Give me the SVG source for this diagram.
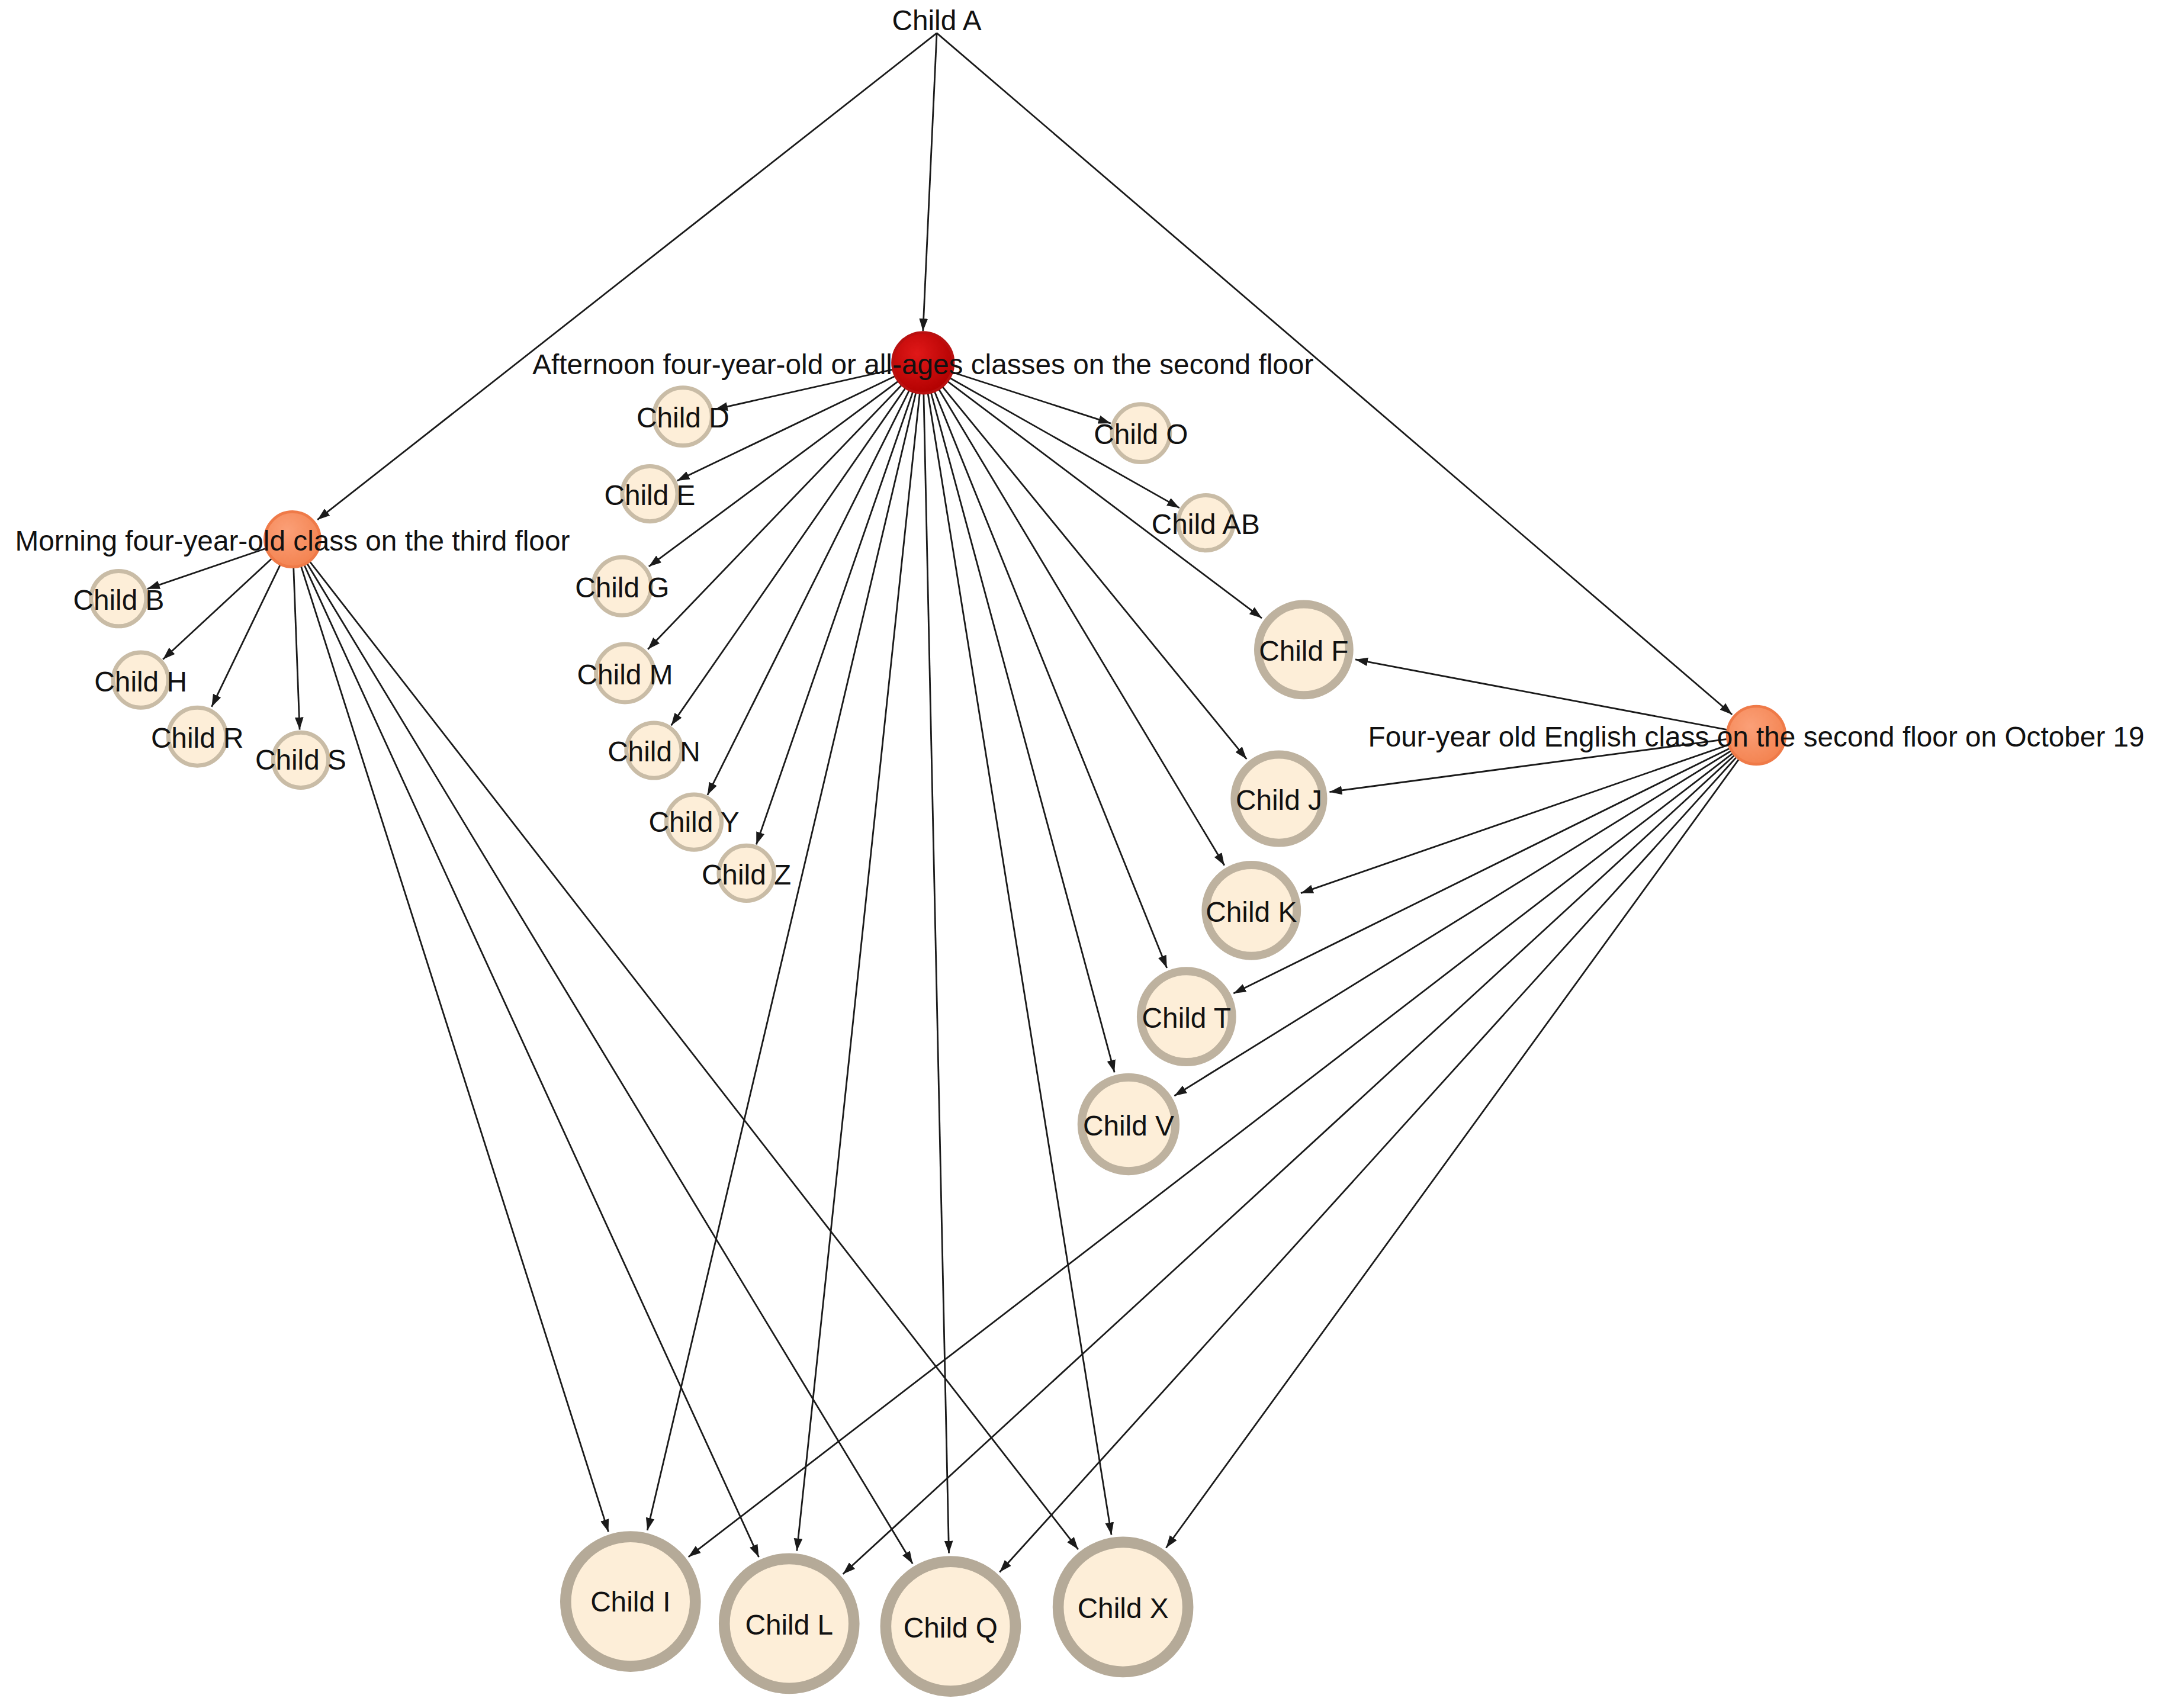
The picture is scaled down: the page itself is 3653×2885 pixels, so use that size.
<svg xmlns="http://www.w3.org/2000/svg" width="3653" height="2885" viewBox="0 0 3653 2885">
<style>
.e{stroke:#1a1a1a;stroke-width:1.2;fill:none;marker-end:url(#ah)}
.s{fill:#fdeed8;stroke:#c9bca6;stroke-width:3}
.m{stroke:#beb29f;stroke-width:6}
.b{fill:#fdeed8;stroke:#b5aa98;stroke-width:8}
.t{font-family:"Liberation Sans",Arial,sans-serif;font-size:20.5px;fill:#111;text-anchor:middle;dominant-baseline:central}
.tb{font-size:20.5px}
.red{fill:url(#gr);stroke:#b81010;stroke-width:2}
.or{fill:url(#go);stroke:#ef7a48;stroke-width:2}
</style>
<defs>
<marker id="ah" viewBox="0 0 10 10" refX="10" refY="5" markerWidth="9" markerHeight="9" markerUnits="userSpaceOnUse" orient="auto"><path d="M0,1.5 L10,5 L0,8.5 z" fill="#1a1a1a"/></marker>
<radialGradient id="gr" cx="0.4" cy="0.35" r="0.7"><stop offset="0" stop-color="#e01818"/><stop offset="1" stop-color="#b00000"/></radialGradient>
<radialGradient id="go" cx="0.4" cy="0.35" r="0.7"><stop offset="0" stop-color="#fba078"/><stop offset="1" stop-color="#f3824f"/></radialGradient>
</defs>
<rect width="3653" height="2885" fill="#fff"/>
<g transform="scale(2.33)">
<g id="edges">
<line class="e" x1="679" y1="24" x2="669" y2="240"/>
<line class="e" x1="679" y1="24" x2="230.1" y2="376.8"/>
<line class="e" x1="679" y1="24" x2="1255.5" y2="518"/>
<line class="e" x1="669" y1="263" x2="518.4" y2="296.7"/>
<line class="e" x1="669" y1="263" x2="490.8" y2="348.5"/>
<line class="e" x1="669" y1="263" x2="470.3" y2="410.7"/>
<line class="e" x1="669" y1="263" x2="469.6" y2="470.7"/>
<line class="e" x1="669" y1="263" x2="486.5" y2="525.9"/>
<line class="e" x1="669" y1="263" x2="512.8" y2="576.3"/>
<line class="e" x1="669" y1="263" x2="548.2" y2="612.2"/>
<line class="e" x1="669" y1="263" x2="805.1" y2="306.9"/>
<line class="e" x1="669" y1="263" x2="854.9" y2="368.2"/>
<line class="e" x1="669" y1="263" x2="914.6" y2="448.1"/>
<line class="e" x1="669" y1="263" x2="903.6" y2="550.3"/>
<line class="e" x1="669" y1="263" x2="887.5" y2="627.4"/>
<line class="e" x1="669" y1="263" x2="845.8" y2="701.7"/>
<line class="e" x1="669" y1="263" x2="807.8" y2="777.4"/>
<line class="e" x1="669" y1="263" x2="469.2" y2="1109.4"/>
<line class="e" x1="669" y1="263" x2="577.6" y2="1124.3"/>
<line class="e" x1="669" y1="263" x2="687.8" y2="1126"/>
<line class="e" x1="669" y1="263" x2="805.6" y2="1112.7"/>
<line class="e" x1="212" y1="391" x2="106.8" y2="426.9"/>
<line class="e" x1="212" y1="391" x2="118.1" y2="478"/>
<line class="e" x1="212" y1="391" x2="153.4" y2="512.4"/>
<line class="e" x1="212" y1="391" x2="217.2" y2="529"/>
<line class="e" x1="212" y1="391" x2="441" y2="1110.5"/>
<line class="e" x1="212" y1="391" x2="550" y2="1128.8"/>
<line class="e" x1="212" y1="391" x2="661.5" y2="1133.6"/>
<line class="e" x1="212" y1="391" x2="781.5" y2="1123.2"/>
<line class="e" x1="1273" y1="533" x2="982.4" y2="478.1"/>
<line class="e" x1="1273" y1="533" x2="963.7" y2="574.1"/>
<line class="e" x1="1273" y1="533" x2="942.9" y2="647.5"/>
<line class="e" x1="1273" y1="533" x2="894.1" y2="720.2"/>
<line class="e" x1="1273" y1="533" x2="851.2" y2="794.4"/>
<line class="e" x1="1273" y1="533" x2="499" y2="1128.7"/>
<line class="e" x1="1273" y1="533" x2="611" y2="1141.1"/>
<line class="e" x1="1273" y1="533" x2="724.6" y2="1139.7"/>
<line class="e" x1="1273" y1="533" x2="845.2" y2="1122.1"/>
</g>
<g id="childA"><text class="t" x="679" y="15">Child A</text></g>
<g id="afternoon"><circle class="red" cx="669" cy="263" r="22"/><text class="t" x="669" y="264">Afternoon four-year-old or all-ages classes on the second floor</text></g>
<g id="morning"><circle class="or" cx="212" cy="391" r="20"/><text class="t" x="212" y="392">Morning four-year-old class on the third floor</text></g>
<g id="english"><circle class="or" cx="1273" cy="533" r="21"/><text class="t" x="1273" y="534">Four-year old English class on the second floor on October 19</text></g>
<g id="childD"><circle class="s" cx="495" cy="302" r="21"/><text class="t" x="495" y="303">Child D</text></g>
<g id="childE"><circle class="s" cx="471" cy="358" r="20"/><text class="t" x="471" y="359">Child E</text></g>
<g id="childG"><circle class="s" cx="451" cy="425" r="21"/><text class="t" x="451" y="426">Child G</text></g>
<g id="childM"><circle class="s" cx="453" cy="488" r="21"/><text class="t" x="453" y="489">Child M</text></g>
<g id="childN"><circle class="s" cx="474" cy="544" r="20"/><text class="t" x="474" y="545">Child N</text></g>
<g id="childY"><circle class="s" cx="503" cy="596" r="20"/><text class="t" x="503" y="596">Child Y</text></g>
<g id="childZ"><circle class="s" cx="541" cy="633" r="20"/><text class="t" x="541" y="634">Child Z</text></g>
<g id="childO"><circle class="s" cx="827" cy="314" r="21"/><text class="t" x="827" y="315">Child O</text></g>
<g id="childAB"><circle class="s" cx="874" cy="379" r="20"/><text class="t" x="874" y="380">Child AB</text></g>
<g id="childF"><circle class="s m" cx="945" cy="471" r="33"/><text class="t" x="945" y="472">Child F</text></g>
<g id="childJ"><circle class="s m" cx="927" cy="579" r="32"/><text class="t" x="927" y="580">Child J</text></g>
<g id="childK"><circle class="s m" cx="907" cy="660" r="33"/><text class="t" x="907" y="661">Child K</text></g>
<g id="childT"><circle class="s m" cx="860" cy="737" r="33"/><text class="t" x="860" y="738">Child T</text></g>
<g id="childV"><circle class="s m" cx="818" cy="815" r="34"/><text class="t" x="818" y="816">Child V</text></g>
<g id="childB"><circle class="s" cx="86" cy="434" r="20"/><text class="t" x="86" y="435">Child B</text></g>
<g id="childH"><circle class="s" cx="102" cy="493" r="20"/><text class="t" x="102" y="494">Child H</text></g>
<g id="childR"><circle class="s" cx="143" cy="534" r="21"/><text class="t" x="143" y="535">Child R</text></g>
<g id="childS"><circle class="s" cx="218" cy="551" r="20"/><text class="t" x="218" y="551">Child S</text></g>
<g id="childI"><circle class="b" cx="457" cy="1161" r="47"/><text class="t tb" x="457" y="1161">Child I</text></g>
<g id="childL"><circle class="b" cx="572" cy="1177" r="47"/><text class="t tb" x="572" y="1178">Child L</text></g>
<g id="childQ"><circle class="b" cx="689" cy="1179" r="47"/><text class="t tb" x="689" y="1180">Child Q</text></g>
<g id="childX"><circle class="b" cx="814" cy="1165" r="47"/><text class="t tb" x="814" y="1166">Child X</text></g>
</g>
</svg>
